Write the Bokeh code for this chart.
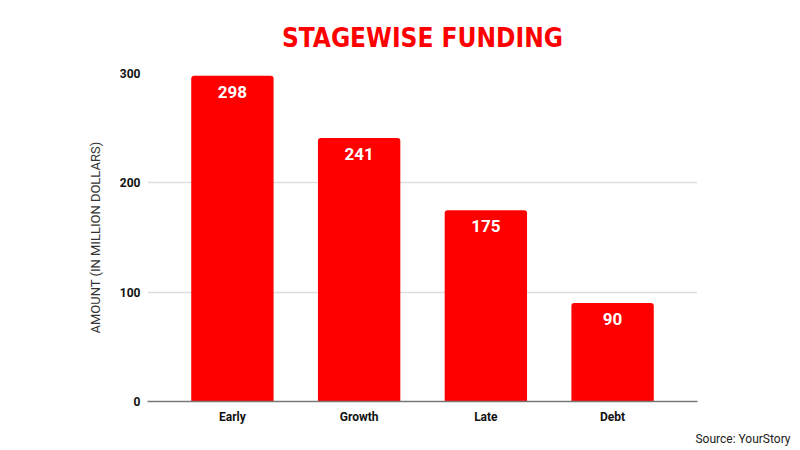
from bokeh.plotting import figure
from bokeh.models import ColumnDataSource, LabelSet, Title
from bokeh.core.properties import value
from bokeh.embed import file_html
from bokeh.resources import INLINE

stages = ["Early", "Growth", "Late", "Debt"]
amounts = [298, 241, 175, 90]
value_labels = [str(a) for a in amounts]
y_ticks = [0, 100, 200, 300]

source = ColumnDataSource(dict(stage=stages, amount=amounts, label=value_labels))

p = figure(
    width=800,
    height=450,
    x_range=stages,
    y_range=(0, 300),
    output_backend="svg",
    toolbar_location=None,
    min_border_left=147,
    min_border_right=103,
    min_border_top=71,
    min_border_bottom=49,
)
p.x_range.range_padding = 0.085
p.outline_line_color = None
p.background_fill_color = "white"

p.vbar(x="stage", top="amount", width=0.65, source=source,
       fill_color="#ff0000", line_color=None, border_radius=(3, 3, 0, 0))

p.add_layout(LabelSet(x="stage", y="amount", text="label", source=source,
                      y_offset=-10, text_align="center", text_baseline="top",
                      text_color="white", text_font=value("Roboto"),
                      text_font_style="bold", text_font_size="17px"))

# axes
p.yaxis.ticker = y_ticks
p.yaxis.axis_line_color = None
p.yaxis.major_tick_line_color = None
p.yaxis.minor_tick_line_color = None
p.yaxis.major_label_text_font = "Roboto"
p.yaxis.major_label_text_font_style = "bold"
p.yaxis.major_label_text_font_size = "12px"
p.yaxis.major_label_text_color = "#111111"
p.yaxis.major_label_standoff = 1
p.yaxis.axis_label = "AMOUNT (IN MILLION DOLLARS)"
p.yaxis.axis_label_text_font = "Roboto"
p.yaxis.axis_label_text_font_style = "normal"
p.yaxis.axis_label_text_font_size = "13px"
p.yaxis.axis_label_text_color = "#333333"
p.yaxis.axis_label_standoff = 14

p.xaxis.axis_line_color = "#777777"
p.xaxis.axis_line_width = 1.5
p.xaxis.major_tick_line_color = None
p.xaxis.minor_tick_line_color = None
p.xaxis.major_label_text_font = "Roboto"
p.xaxis.major_label_text_font_style = "bold"
p.xaxis.major_label_text_font_size = "12px"
p.xaxis.major_label_text_color = "#111111"
p.xaxis.major_label_standoff = 2

p.xgrid.grid_line_color = None
p.ygrid.grid_line_color = "#dddddd"
p.ygrid.grid_line_width = 1.5

p.add_layout(Title(text="STAGEWISE FUNDING", align="center",
                   text_color="#ff0000", text_font="DejaVu Sans Condensed",
                   text_font_style="bold", text_font_size="26px",
                   standoff=41), "above")
p.add_layout(Title(text="Source: YourStory", align="right", offset=-93,
                   text_color="#222222", text_font="Roboto",
                   text_font_style="normal", text_font_size="12px",
                   standoff=6), "below")

open("out.html", "w").write(file_html(p, INLINE))
